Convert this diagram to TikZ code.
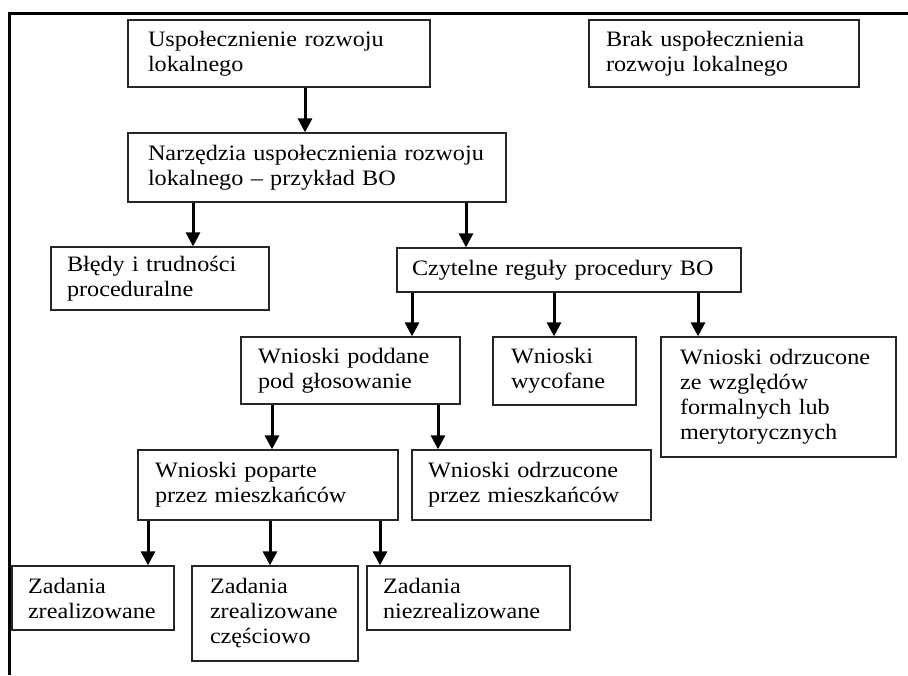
\documentclass[tikz,border=0pt]{standalone}
\usepackage{fontspec}
\setmainfont{Liberation Serif}[FakeStretch=1.1]
\usetikzlibrary{arrows.meta}
\tikzset{
  box/.style={draw=black!85, line width=1.3pt, rectangle, inner xsep=0pt, inner ysep=0pt,
    align=left, font=\fontsize{22}{25}\selectfont},
  arr/.style={line width=3pt, -{Triangle[width=14pt,length=14pt]}},
  frame/.style={line width=3pt}
}
\begin{document}
\begin{tikzpicture}[x=1pt,y=-1pt]
\useasboundingbox (0,0) rectangle (908,675);
\draw[frame] (908,13) -- (9,13) -- (9,675);

\node[box, minimum width=302pt, minimum height=67pt, text width=262pt] (b1) at (279,53.5) {\mbox{Uspołecznienie rozwoju}\\lokalnego};
\node[box, minimum width=270pt, minimum height=67pt, text width=236pt] (b2) at (724,53.5) {\mbox{Brak uspołecznienia}\\\mbox{rozwoju lokalnego}};
\node[box, minimum width=378pt, minimum height=69pt, text width=338pt] (b3) at (317,167.5) {\mbox{Narzędzia uspołecznienia rozwoju}\\\mbox{lokalnego -- przykład BO}};
\node[box, minimum width=218pt, minimum height=63pt, text width=186pt] (b4) at (160,278.5) {\mbox{Błędy i trudności}\\proceduralne};
\node[box, minimum width=344pt, minimum height=44pt, text width=314pt] (b5) at (569,270) {\mbox{Czytelne reguły procedury BO}};
\node[box, minimum width=219pt, minimum height=67pt, text width=185pt] (b6) at (350.5,370.5) {\mbox{Wnioski poddane}\\\mbox{pod głosowanie}};
\node[box, minimum width=143pt, minimum height=68pt, text width=107pt] (b7) at (564.5,371) {Wnioski\\wycofane};
\node[box, minimum width=235pt, minimum height=120pt, text width=197pt] (b8) at (778.5,397) {\mbox{Wnioski odrzucone}\\\mbox{ze względów}\\\mbox{formalnych lub}\\merytorycznych};
\node[box, minimum width=260pt, minimum height=70pt, text width=226pt] (b9) at (268,485) {\mbox{Wnioski poparte}\\\mbox{przez mieszkańców}};
\node[box, minimum width=239pt, minimum height=70pt, text width=207pt] (b10) at (531.5,485) {\mbox{Wnioski odrzucone}\\\mbox{przez mieszkańców}};
\node[box, minimum width=162pt, minimum height=64pt, text width=130pt] (b11) at (93,598) {Zadania\\zrealizowane};
\node[box, minimum width=166pt, minimum height=95pt, text width=130pt] (b12) at (275,613.5) {Zadania\\zrealizowane\\częściowo};
\node[box, minimum width=203pt, minimum height=64pt, text width=171pt] (b13) at (468.5,598) {Zadania\\niezrealizowane};

\draw[arr] (b1.south -| 305,0) -- (b3.north -| 305,0);
\draw[arr] (b3.south -| 193,0) -- (b4.north -| 193,0);
\draw[arr] (b3.south -| 466,0) -- (b5.north -| 466,0);
\draw[arr] (b5.south -| 412,0) -- (b6.north -| 412,0);
\draw[arr] (b5.south -| 554,0) -- (b7.north -| 554,0);
\draw[arr] (b5.south -| 698,0) -- (b8.north -| 698,0);
\draw[arr] (b6.south -| 272,0) -- (b9.north -| 272,0);
\draw[arr] (b6.south -| 438,0) -- (b10.north -| 438,0);
\draw[arr] (b9.south -| 148,0) -- (b11.north -| 148,0);
\draw[arr] (b9.south -| 270,0) -- (b12.north -| 270,0);
\draw[arr] (b9.south -| 380,0) -- (b13.north -| 380,0);
\end{tikzpicture}
\end{document}
